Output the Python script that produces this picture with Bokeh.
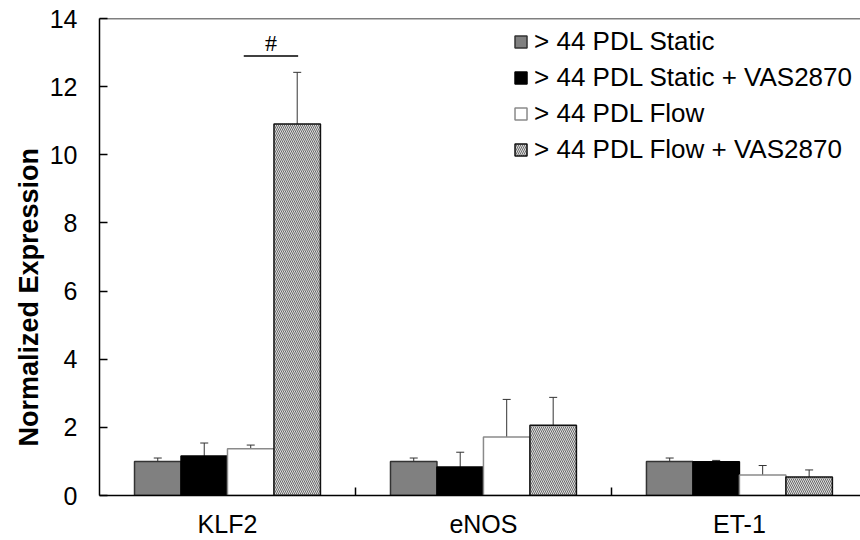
import numpy as np
from bokeh.plotting import figure
from bokeh.models import (ColumnDataSource, Whisker, TeeHead, FixedTicker, Legend, LegendItem,
                          Title, Span, Range1d)
from bokeh.core.properties import value
from bokeh.embed import file_html
from bokeh.resources import INLINE

# ---- data ----
categories = ["KLF2", "eNOS", "ET-1"]
series_names = ["> 44 PDL Static", "> 44 PDL Static + VAS2870", "> 44 PDL Flow", "> 44 PDL Flow + VAS2870"]
static_vals = [1.00, 1.00, 1.00]
static_err = [0.10, 0.10, 0.10]
static_vas_vals = [1.16, 0.84, 0.99]
static_vas_err = [0.38, 0.43, 0.04]
flow_vals = [1.37, 1.72, 0.60]
flow_err = [0.11, 1.10, 0.28]
flow_vas_vals = [10.90, 2.06, 0.54]
flow_vas_err = [1.52, 0.82, 0.21]
sig_level = 12.9
sig_mark = "#"
y_ticks = [0, 2, 4, 6, 8, 10, 12, 14]

FONT = "Liberation Sans"
W, H = 860, 540

p = figure(width=W, height=H, output_backend="svg", toolbar_location=None,
           x_range=Range1d(0, 2.973), y_range=Range1d(0, 14),
           min_border_left=99, min_border_right=0, min_border_top=18, min_border_bottom=44)
p.outline_line_color = None
p.xgrid.grid_line_color = None
p.ygrid.grid_line_color = None
p.background_fill_color = "white"
p.border_fill_color = "white"

bw = 0.1816
offsets = [-1.5 * bw, -0.5 * bw, 0.5 * bw, 1.5 * bw]
vals = [static_vals, static_vas_vals, flow_vals, flow_vas_vals]
errs = [static_err, static_vas_err, flow_err, flow_vas_err]
styles = [
    dict(fill_color="#808080", line_color="#333333"),
    dict(fill_color="#000000", line_color="#000000"),
    dict(fill_color="#ffffff", line_color="#8a8a8a"),
    dict(fill_color="#dedede", line_color="#111111", hatch_pattern="\\", hatch_color="#6a6a6a",
         hatch_scale=4, hatch_weight=1),
]

renderers = []
for i in range(4):
    xs = np.arange(len(categories)) + 0.5 + offsets[i]
    v = np.array(vals[i])
    e = np.array(errs[i])
    src = ColumnDataSource(dict(x=xs, top=v, upper=v + e, lower=v - e))
    r = p.vbar(x="x", top="top", bottom=0, width=bw, source=src, line_width=1.5, **styles[i])
    renderers.append(r)
    wh = Whisker(base="x", upper="upper", lower="lower", source=src, line_color="#333333", line_width=1,
                 upper_head=TeeHead(size=8, line_color="#333333", line_width=1),
                 lower_head=TeeHead(size=8, line_color="#333333", line_width=1))
    p.add_layout(wh)

# significance marker over KLF2 flow vs flow+VAS
x0 = 0.5 + offsets[2] - 0.15 * bw
x1 = 0.5 + offsets[3] + 0.02 * bw
p.line(x=[x0, x1], y=[sig_level, sig_level], line_color="black", line_width=1.5)
p.text(x=[(x0 + x1) / 2], y=[sig_level], text=[sig_mark], text_align="center",
       text_baseline="bottom", y_offset=0, text_font=value("Liberation Serif"),
       text_font_size="24px", text_color="black")

# top border
p.add_layout(Span(location=14, dimension="width", line_color="black", line_width=1.5))

# axes
xa = p.xaxis[0]
xa.ticker = FixedTicker(ticks=[0.5, 1.5, 2.5], minor_ticks=[1.0, 2.0])
xa.major_label_overrides = {0.5: categories[0], 1.5: categories[1], 2.5: categories[2]}
xa.major_tick_in = 0
xa.major_tick_out = 0
xa.minor_tick_in = 8
xa.minor_tick_out = 0
xa.minor_tick_line_color = "black"
xa.minor_tick_line_width = 1.5
xa.axis_line_color = "black"
xa.axis_line_width = 1.5
xa.major_label_text_font = FONT
xa.major_label_text_font_size = "25px"
xa.major_label_text_color = "black"
xa.major_label_standoff = 14

ya = p.yaxis[0]
ya.ticker = FixedTicker(ticks=y_ticks)
ya.major_tick_in = 8
ya.major_tick_out = 0
ya.minor_tick_line_color = None
ya.major_tick_line_color = "black"
ya.major_tick_line_width = 1.5
ya.axis_line_color = "black"
ya.axis_line_width = 1.5
ya.major_label_text_font = FONT
ya.major_label_text_font_size = "25px"
ya.major_label_text_color = "black"
ya.major_label_standoff = 22

# y-axis title, placed like the original (not centred on the frame)
p.add_layout(Title(text="Normalized Expression", align="left", offset=49, standoff=6,
                   text_font=FONT, text_font_size="27px", text_font_style="bold",
                   text_color="black"), "left")

legend = Legend(items=[LegendItem(label=series_names[i], renderers=[renderers[i]]) for i in range(4)],
                location="top_right", glyph_width=15, glyph_height=15, label_standoff=6,
                spacing=5, padding=0, margin=8, border_line_color=None, background_fill_alpha=0,
                label_text_font=FONT, label_text_font_size="26px", label_text_color="black")
p.add_layout(legend)

open("out.html", "w").write(file_html(p, INLINE))
